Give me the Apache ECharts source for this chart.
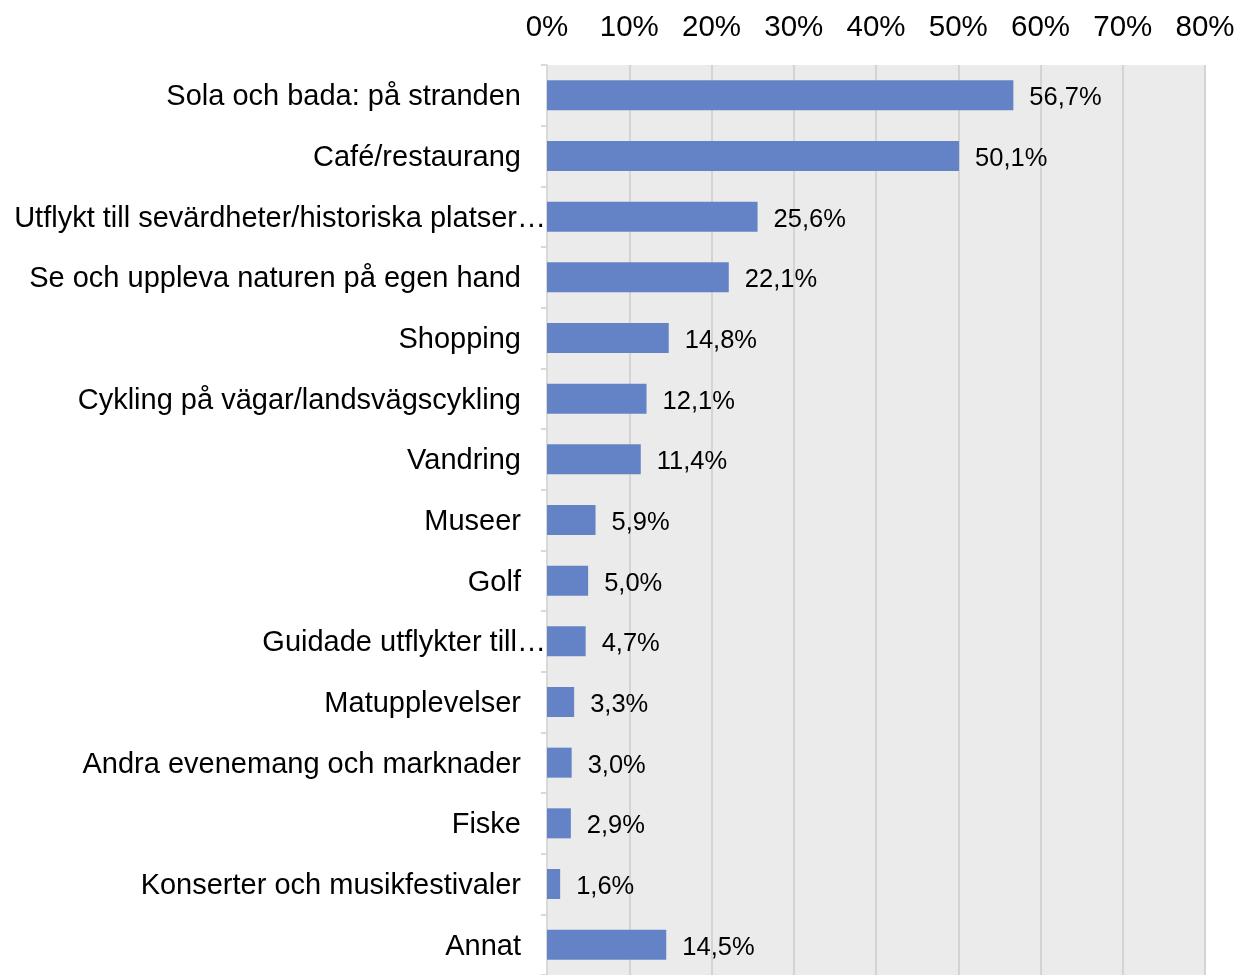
<!DOCTYPE html>
<html>
<head>
<meta charset="utf-8">
<script src="https://cdn.jsdelivr.net/npm/echarts@6/dist/echarts.min.js"></script>
<style>
  html, body { margin: 0; padding: 0; background: #fff; }
  #chart { width: 1240px; height: 975px; }
</style>
</head>
<body>
<div id="chart"></div>
<script>
// categories, top to bottom
var categories = [
  'Sola och bada: på stranden',
  'Café/restaurang',
  'Utflykt till sevärdheter/historiska platser…',
  'Se och uppleva naturen på egen hand',
  'Shopping',
  'Cykling på vägar/landsvägscykling',
  'Vandring',
  'Museer',
  'Golf',
  'Guidade utflykter till…',
  'Matupplevelser',
  'Andra evenemang och marknader',
  'Fiske',
  'Konserter och musikfestivaler',
  'Annat'
];
var values = [56.7, 50.1, 25.6, 22.1, 14.8, 12.1, 11.4, 5.9, 5.0, 4.7, 3.3, 3.0, 2.9, 1.6, 14.5];
var axisMax = 80;
var axisStep = 10;

var font = "'Liberation Sans', Arial, sans-serif";
var myChart = echarts.init(document.getElementById('chart'));

var option = {
  animation: false,
  grid: {
    left: 547,
    right: 35,
    top: 65,
    height: 915,
    show: true,
    backgroundColor: '#ebebeb',
    borderWidth: 0
  },
  xAxis: {
    type: 'value',
    position: 'top',
    min: 0,
    max: axisMax,
    interval: axisStep,
    axisLine: { show: false },
    axisTick: { show: false },
    axisLabel: {
      margin: 22,
      color: '#000',
      fontSize: 29.5,
      fontFamily: font,
      formatter: '{value}%'
    },
    splitLine: {
      lineStyle: { color: '#d4d4d4', width: 2 }
    }
  },
  yAxis: {
    type: 'category',
    inverse: true,
    data: categories,
    axisLine: {
      lineStyle: { color: '#d9d9d9', width: 2 }
    },
    axisTick: {
      show: true,
      length: 6,
      lineStyle: { color: '#d9d9d9', width: 2 }
    },
    axisLabel: {
      margin: 1,
      color: '#000',
      fontSize: 29,
      fontFamily: font,
      formatter: function (v) {
        // truncated names run right up to the axis, others keep a gap
        return v.slice(-1) == '…' ? '{e|' + v + '}' : '{n|' + v + '}';
      },
      rich: {
        n: { fontSize: 29, fontFamily: font, color: '#000', padding: [4, 25, 0, 0] },
        e: { fontSize: 29, fontFamily: font, color: '#000', padding: [4, 0, 0, 0] }
      }
    }
  },
  series: [{
    type: 'bar',
    data: values,
    barWidth: 30,
    itemStyle: { color: '#6383c6' },
    label: {
      show: true,
      position: 'right',
      distance: 16,
      offset: [0, 3],
      color: '#000',
      fontSize: 25.5,
      fontFamily: font,
      formatter: function (p) {
        return p.value.toFixed(1).replace('.', ',') + '%';
      }
    }
  }]
};

myChart.setOption(option);
</script>
</body>
</html>
